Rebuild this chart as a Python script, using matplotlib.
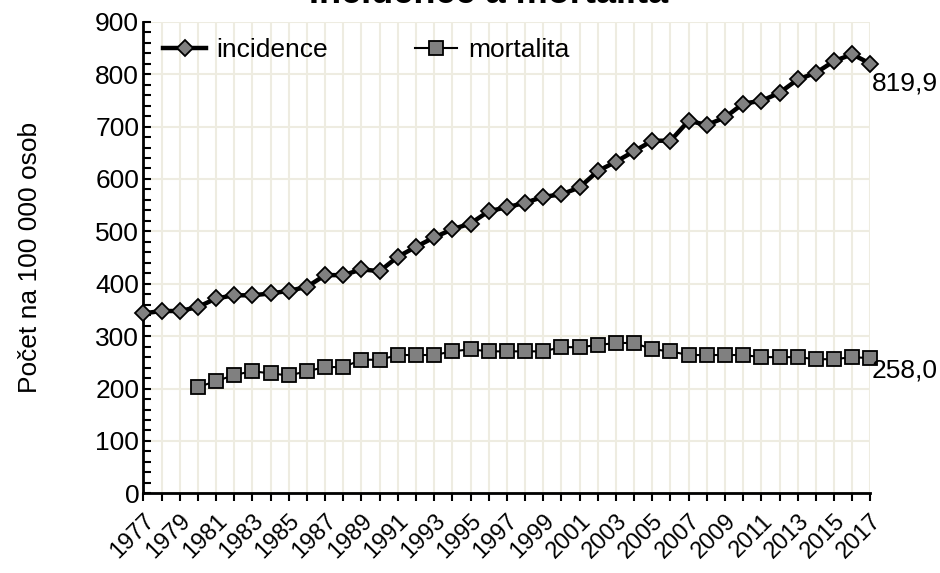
import matplotlib.pyplot as plt
import matplotlib.transforms as mtransforms

plt.rcParams['font.family'] = ['Liberation Sans', 'DejaVu Sans']

years = list(range(1977, 2018))
incidence = [343.5, 348, 348, 355.5, 372, 378, 378, 381.5, 386.5, 394,
             416.5, 416.5, 427.5, 424, 451.5, 470.5, 488.5, 504, 515, 538.5,
             546, 554.5, 566, 570.5, 584, 615, 633, 653, 673, 673,
             711, 703, 717.5, 744, 749, 764.5, 790, 802.5, 825, 838, 819.9]
mort_years = list(range(1980, 2018))
mortalita = [203, 214, 226, 233, 229, 225, 233, 241, 241, 255,
             255, 264, 264, 264, 271, 275, 271, 271, 271, 271,
             279, 279, 283, 287, 287, 275, 271, 264, 264, 264,
             264, 260, 260, 260, 256, 256, 260, 258.0]

fs = 19

fig = plt.figure(figsize=(9.4, 5.73), dpi=100)
ax = fig.add_axes([0.1525, 0.139, 0.7735, 0.823])

grid_col = '#EEECE1'
ax.plot(years, incidence, color='black', lw=3.2, marker='D', ms=8.5,
        mfc='#808080', mec='black', mew=1.3, label='incidence', zorder=3, clip_on=False)
ax.plot(mort_years, mortalita, color='black', lw=1.5, marker='s', ms=9.5,
        mfc='#808080', mec='black', mew=1.3, label='mortalita', zorder=3, clip_on=False)

ax.set_xlim(1977, 2017)
ax.set_ylim(0, 900)
ax.set_yticks(range(0, 901, 100))
ax.set_yticks(range(0, 901, 20), minor=True)
ax.set_xticks(years)
ax.set_xticklabels([str(y) if (y - 1977) % 2 == 0 else '' for y in years],
                   rotation=45, ha='right', va='top', rotation_mode='anchor')
offset = mtransforms.ScaledTranslation(-6 / 100, 0, fig.dpi_scale_trans)
for lab in ax.get_xticklabels():
    lab.set_transform(lab.get_transform() + offset)

ax.grid(True, color=grid_col, lw=1.5, zorder=0)
ax.set_axisbelow(True)
for s in ['top', 'right']:
    ax.spines[s].set_visible(False)
for s in ['left', 'bottom']:
    ax.spines[s].set_linewidth(2)
ax.tick_params(axis='y', which='both', direction='in', length=6, width=1.5, labelsize=fs, pad=3)
ax.tick_params(axis='x', direction='out', length=6, width=1.5, labelsize=17, pad=6)

ax.set_ylabel('Počet na 100 000 osob', fontsize=fs, labelpad=38)

ax.annotate('819,9', (years[-1], incidence[-1]), xytext=(1, -14), textcoords='offset points',
            ha='left', va='center', fontsize=fs)
ax.annotate('258,0', (mort_years[-1], mortalita[-1]), xytext=(1, -9), textcoords='offset points',
            ha='left', va='center', fontsize=fs)

ax.legend(loc='upper left', ncol=2, frameon=False, fontsize=fs, columnspacing=3.3,
          bbox_to_anchor=(-0.005, 1.015), handlelength=1.6, handletextpad=0.4)

fig.text(0.52, 1.012, 'Incidence a mortalita', ha='center', va='center',
         fontsize=26, fontweight='bold')

fig.savefig('out.png', dpi=100)
